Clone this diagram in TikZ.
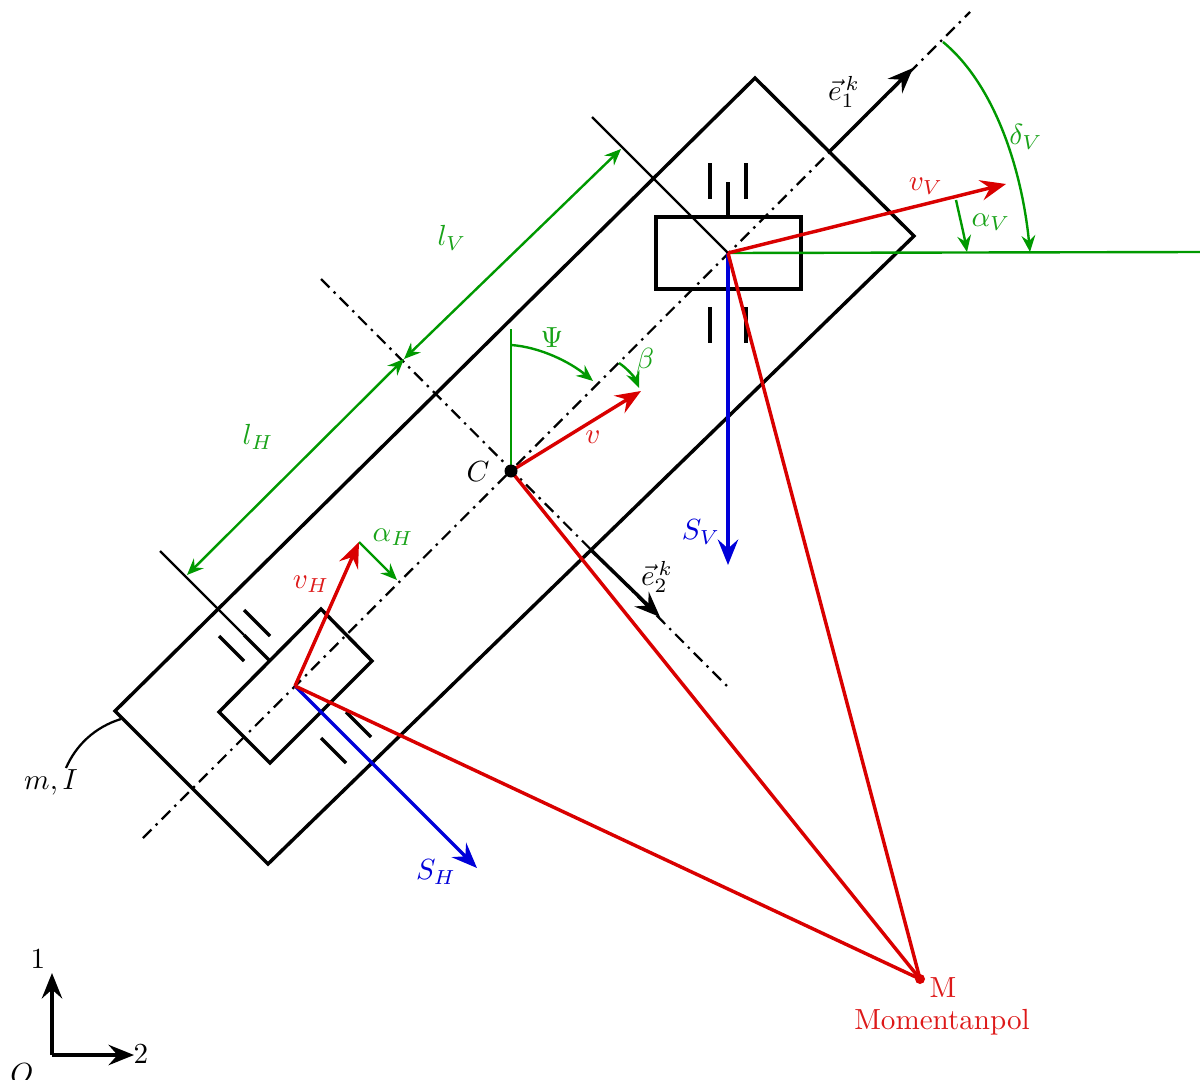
\documentclass[tikz,border=0pt]{standalone}
\usetikzlibrary{arrows.meta}
\definecolor{mygreen}{RGB}{0,153,0}
\definecolor{myred}{RGB}{217,0,0}
\definecolor{myblue}{RGB}{0,0,217}
\tikzset{
  bighead/.tip={Stealth[length=8.5pt,width=6.8pt,inset=3pt]},
  smallhead/.tip={Stealth[length=5.5pt,width=4.6pt,inset=1.9pt]},
  thickline/.style={line width=1.15pt,black,line join=miter},
  thinline/.style={line width=0.75pt,black},
  center line/.style={line width=0.75pt,black,dash pattern=on 4pt off 2pt on 0.8pt off 2pt},
  bigarrow/.style={line width=1.15pt,-bighead},
  redline/.style={line width=1.15pt,myred},
  redarrow/.style={redline,-bighead},
  bluearrow/.style={line width=1.15pt,myblue,-bighead},
  greenline/.style={line width=0.8pt,mygreen},
  greenarrow/.style={greenline,-smallhead},
  greendim/.style={greenline,smallhead-smallhead},
  lab/.style={inner sep=0pt,outer sep=0pt,scale=0.97},
  greenlab/.style={lab,text=mygreen!90!white},
  redlab/.style={lab,text=myred!90!white},
  bluelab/.style={lab,text=myblue},
}
\begin{document}
\begin{tikzpicture}[x=0.33333pt,y=-0.33333pt]
\useasboundingbox (0,0) rectangle (1200,1080);
% coordinates
\coordinate (A) at (755,78);
\coordinate (B) at (914,236);
\coordinate (D) at (268,864);
\coordinate (E) at (115,711);
\coordinate (C) at (511,471);
\coordinate (VW) at (728,253);
\coordinate (HW) at (295,686);
\coordinate (M) at (920,979);
% centre lines
\coordinate (cl1a) at (143,838); \coordinate (cl1b) at (970,12);
\coordinate (cl2a) at (321,279); \coordinate (cl2b) at (728,687);
\draw[center line] (cl1a) -- (cl1b);
\draw[center line] (cl2a) -- (cl2b);
% body
\draw[thickline] (A) -- (B) -- (D) -- (E) -- cycle;
% body axes
\coordinate (e1s) at (829,152); \coordinate (e1e) at (913,68);
\coordinate (e2s) at (590,549); \coordinate (e2e) at (660,617);
\draw[bigarrow] (e1s) -- (e1e);
\draw[bigarrow] (e2s) -- (e2e);
% front wheel
\draw[thickline] (656,217) rectangle (801,289);
\draw[thickline] (710,163) -- (710,199);
\draw[thickline] (746,163) -- (746,199);
\draw[thickline] (728,182) -- (728,217);
\draw[thickline] (710,307) -- (710,343);
\draw[thickline] (746,307) -- (746,343);
% rear wheel
\draw[thickline] (321,609) -- (372,661) -- (270,763) -- (219,712) -- cycle;
\draw[thickline] (244,610) -- (270,636);
\draw[thickline] (219,636) -- (244,661);
\draw[thickline] (244,635) -- (270,661);
\draw[thickline] (346,712) -- (371,737);
\draw[thickline] (321,738) -- (346,763);
% thin reference lines
\coordinate (tv) at (592,117); \coordinate (th) at (160,551); \coordinate (thb) at (244,635);
\draw[thinline] (tv) -- (VW);
\draw[thinline] (th) -- (thb);
% green dims
\coordinate (dm) at (404,359); \coordinate (dv) at (621,149); \coordinate (dh) at (187,575);
\draw[greendim] (dm) -- (dv);
\draw[greendim] (dm) -- (dh);
% green angles
\coordinate (hr) at (1200,252);
\draw[greenline] (VW) -- (hr);
\coordinate (av) at (956,200); \coordinate (ave) at (967,252);
\draw[greenarrow] (av) .. controls (960,218) and (964,235) .. (ave);
\coordinate (dv1) at (943,42); \coordinate (dve) at (1030,252);
\draw[greenarrow] (dv1) .. controls (995,85) and (1022,170) .. (dve);
\coordinate (psi0) at (511,329);
\draw[greenline] (psi0) -- (C);
\coordinate (psi1) at (511,345); \coordinate (psi2) at (593,381);
\draw[greenarrow] (psi1) .. controls (540,347) and (570,362) .. (psi2);
\coordinate (be1) at (619,363); \coordinate (be2) at (639,388);
\draw[greenarrow] (be1) .. controls (628,369) and (635,378) .. (be2);
\coordinate (vh) at (359,542); \coordinate (ah) at (397,580);
\draw[greenarrow] (vh) -- (ah);
% blue
\coordinate (sv) at (728,565); \coordinate (sh) at (477,868);
\draw[bluearrow] (VW) -- (sv);
\draw[bluearrow] (HW) -- (sh);
% red
\coordinate (vv) at (1006,184); \coordinate (ve) at (641,391);
\draw[redline] (VW) -- (M);
\draw[redline] (C) -- (M);
\draw[redline] (HW) -- (M);
\draw[redarrow] (VW) -- (vv);
\draw[redarrow] (C) -- (ve);
\draw[redarrow] (HW) -- (vh);
\fill[myred] (M) circle (5);
\fill[black] (C) circle (6.5);
% mass
\coordinate (mi1) at (121,719); \coordinate (mi2) at (66,768);
\draw[thinline] (mi1) .. controls (95,727) and (76,745) .. (mi2);
% inertial axes
\coordinate (ax) at (52,1055); \coordinate (ax1) at (52,973); \coordinate (ax2) at (134,1055);
\draw[bigarrow] (ax) -- (ax1);
\draw[bigarrow] (ax) -- (ax2);
% labels
\node[lab] (lC) at (478,472) {$C$};
\node[redlab] (lv) at (593,437) {$v$};
\node[greenlab] (lPsi) at (552,338) {$\Psi$};
\node[greenlab] (lbeta) at (645,361) {$\beta$};
\node[greenlab] (llV) at (452,238) {$l_V$};
\node[greenlab] (llH) at (258,437) {$l_H$};
\node[redlab] (lvV) at (926,186) {$v_V$};
\node[greenlab] (laV) at (991,222) {$\alpha_V$};
\node[greenlab] (ldV) at (1026,137) {$\delta_V$};
\node[lab] (le1) at (844,92) {$\vec{e}_1^{\,k}$};
\node[lab] (le2) at (657,577) {$\vec{e}_2^{\,k}$};
\node[bluelab] (lSV) at (701,532) {$S_V$};
\node[bluelab] (lSH) at (436,872) {$S_H$};
\node[redlab] (lvH) at (311,584) {$v_H$};
\node[greenlab] (laH) at (393,537) {$\alpha_H$};
\node[lab] (lmI) at (51,782) {$m,I$};
\node[redlab] (lM) at (943,988) {M};
\node[redlab] (lMp) at (942,1022) {Momentanpol};
\node[lab] (l1) at (38,959) {1};
\node[lab] (l2) at (141,1054) {2};
\node[lab] (lO) at (22,1074) {$O$};
\end{tikzpicture}
\end{document}
